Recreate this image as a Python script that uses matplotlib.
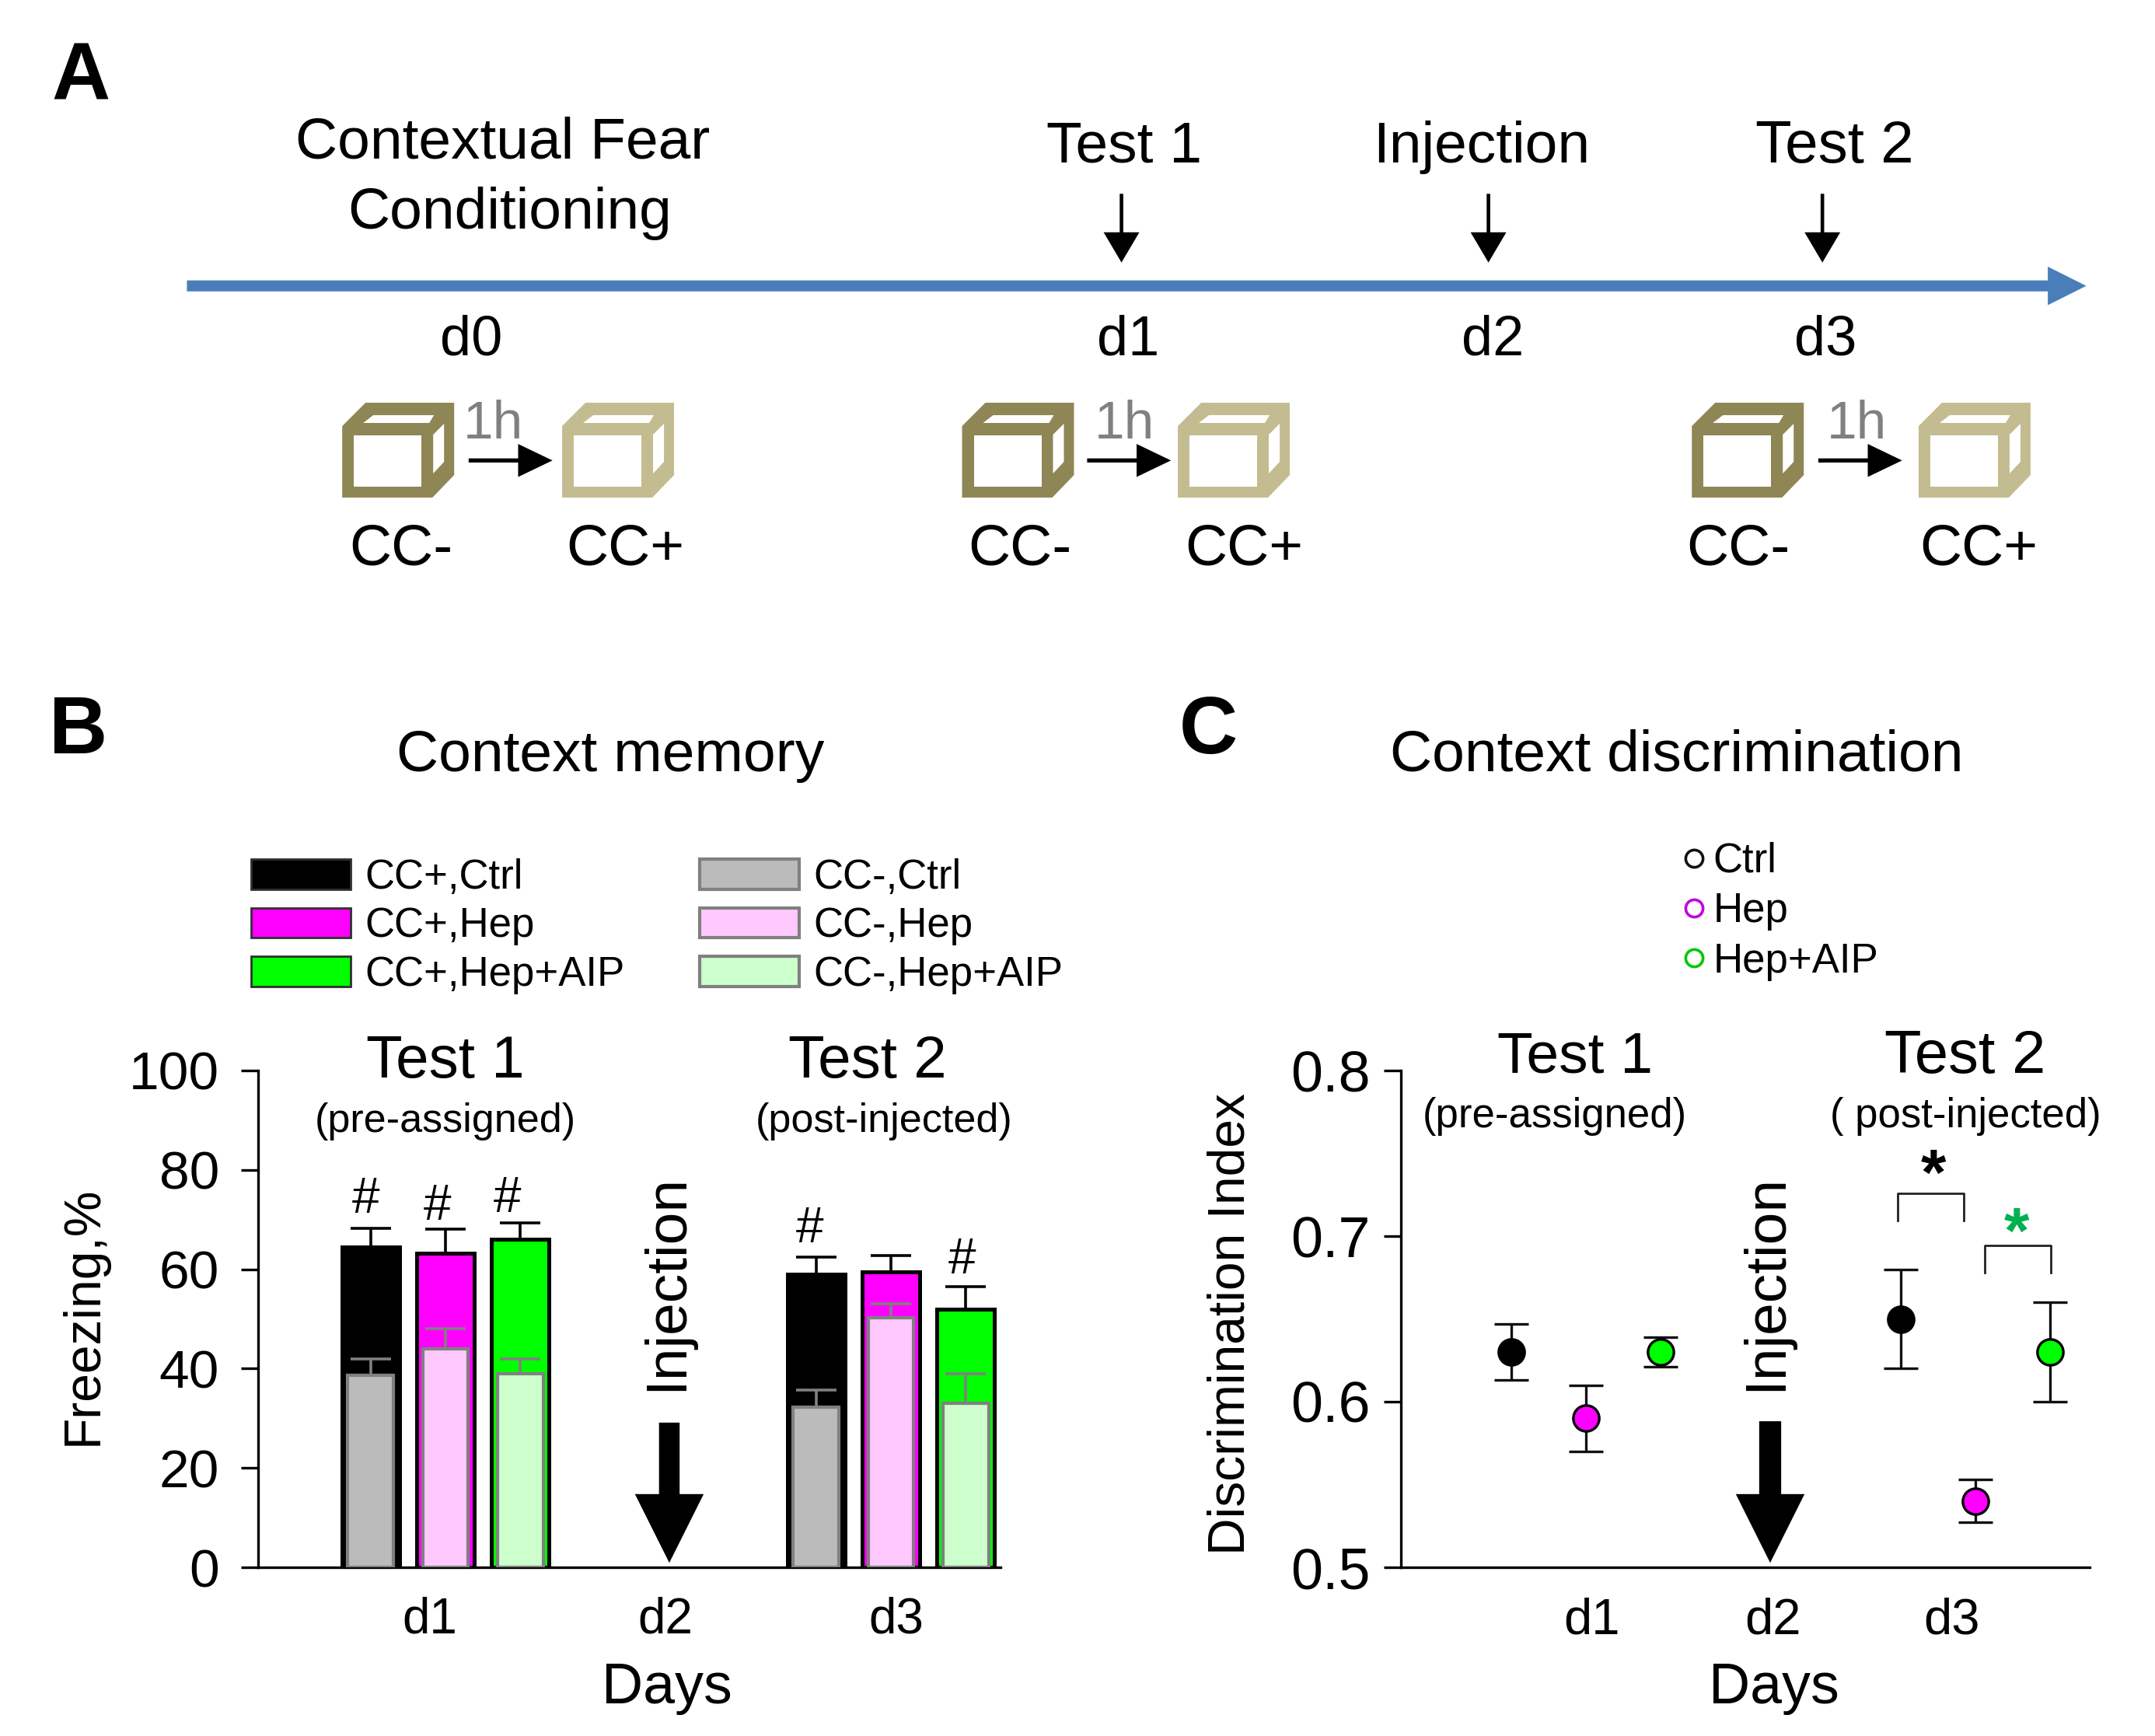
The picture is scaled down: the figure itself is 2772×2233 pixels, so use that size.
import matplotlib
matplotlib.use("Agg")
import matplotlib.pyplot as plt
from matplotlib.lines import Line2D
from matplotlib.patches import Patch, Polygon

plt.rcParams['font.family'] = ['Liberation Sans', 'DejaVu Sans']

W, H = 2772, 2233

# panel B values
days = [1, 3]
groups = ['Ctrl', 'Hep', 'Hep+AIP']
cc_plus = [[64.5, 63.2, 66.0], [59.0, 59.5, 52.0]]
cc_plus_top = [[68.3, 68.0, 69.3], [62.5, 62.8, 56.5]]
cc_minus = [[38.7, 44.0, 39.0], [32.3, 50.3, 33.0]]
cc_minus_top = [[42.0, 48.0, 42.0], [35.7, 53.0, 39.0]]
b_yticks = [0, 20, 40, 60, 80, 100]

# panel C values
disc = [[0.63, 0.59, 0.63], [0.65, 0.54, 0.63]]
disc_low = [[0.613, 0.57, 0.621], [0.62, 0.527, 0.60]]
disc_high = [[0.647, 0.61, 0.639], [0.68, 0.553, 0.66]]
c_yticks = [0.5, 0.6, 0.7, 0.8]
day_labels = ['d1', 'd2', 'd3']

plus_colors = ['#000000', '#ff00ff', '#00ff00']
minus_colors = ['#bbbbbb', '#ffc8ff', '#ccffcc']
BOX_DARK = '#8f8655'
BOX_LIGHT = '#c4bc91'

fig = plt.figure(figsize=(W / 100, H / 100), dpi=100, facecolor='white')


def axes_px(left, top, right, bottom):
    return fig.add_axes([left / W, 1 - bottom / H, (right - left) / W, (bottom - top) / H])


def style_axes(ax, ticks, size, pad):
    ax.spines['top'].set_visible(False)
    ax.spines['right'].set_visible(False)
    ax.spines['left'].set_linewidth(2.4)
    ax.spines['bottom'].set_linewidth(2.4)
    ax.set_yticks(ticks)
    ax.tick_params(axis='y', length=16, width=2.4, labelsize=size, pad=pad)
    ax.tick_params(axis='x', length=0, labelsize=46, pad=27)
    ax.patch.set_alpha(0)


# panel B
ax_b = axes_px(332, 1377, 1287, 2016)
ax_b.set_xlim(0.159, 3.492)
ax_b.set_ylim(0, 100)
style_axes(ax_b, b_yticks, 50, 20)
ax_b.set_yticklabels([str(v) for v in b_yticks])
for d, day in enumerate(days):
    for g in range(3):
        x = day + (g - 1) * 0.336
        ax_b.errorbar(x, cc_plus[d][g], yerr=[[0], [cc_plus_top[d][g] - cc_plus[d][g]]], color='black',
                      elinewidth=2.6, capsize=19, capthick=2.6, zorder=1)
        ax_b.bar(x, cc_plus[d][g], width=0.257, color=plus_colors[g], edgecolor='black', linewidth=3.6, zorder=2)
        ax_b.bar(x, cc_minus[d][g], width=0.205, color=minus_colors[g], edgecolor='#808080', linewidth=3, zorder=3)
        ax_b.errorbar(x, cc_minus[d][g], yerr=[[0], [cc_minus_top[d][g] - cc_minus[d][g]]], color='#808080',
                      elinewidth=2.6, capsize=19, capthick=2.6, zorder=3)
ax_b.set_xticks([0.93, 1.988, 3.024])
ax_b.set_xticklabels(day_labels)
ax_b.set_ylabel('Freezing,%', fontsize=47.5)
ax_b.yaxis.set_label_coords((139 - 332) / 955, (2016 - 1692) / 639)

legend_handles = [Patch(facecolor=plus_colors[i], edgecolor='#303030', linewidth=2, label='CC+,' + groups[i]) for i in range(3)]
legend_handles += [Patch(facecolor=minus_colors[i], edgecolor='#808080', linewidth=3, label='CC-,' + groups[i]) for i in range(3)]
fig.legend(handles=legend_handles, ncol=2, loc='upper left', bbox_to_anchor=(323 / W, 1 - 1104 / H), frameon=False,
           fontsize=38, borderpad=0, borderaxespad=0, handlelength=2.43, handleheight=0.75,
           handletextpad=0.34, columnspacing=1.83, labelspacing=0.236)

# panel C
ax_c = axes_px(1802, 1377, 2688, 2016)
ax_c.set_xlim(0.05, 3.587)
ax_c.set_ylim(0.5, 0.8)
style_axes(ax_c, c_yticks, 53, 12)
ax_c.set_yticklabels(['%.1f' % v for v in c_yticks])
for d, day in enumerate(days):
    for g in range(3):
        x = day + (g - 1) * 0.385
        ax_c.errorbar(x, disc[d][g], yerr=[[disc[d][g] - disc_low[d][g]], [disc_high[d][g] - disc[d][g]]],
                      fmt='o', ms=24, mfc=plus_colors[g], mec='black', mew=2.4, ecolor='#111111',
                      elinewidth=2.4, capsize=16, capthick=2.4, clip_on=False)
ax_c.set_xticks([1.03, 1.962, 2.88])
ax_c.set_xticklabels(day_labels)
ax_c.tick_params(axis='x', labelsize=47, pad=28)
ax_c.set_ylabel('Discrimination Index', fontsize=47.5)
ax_c.yaxis.set_label_coords((1615 - 1802) / 886, (2016 - 1703) / 639)

legend_c = [Line2D([], [], ls='none', marker='o', ms=16, mfc='white', mew=2.6, mec=c, label=l)
            for c, l in zip(['#111111', '#c000e0', '#00c800'], groups)]
fig.legend(handles=legend_c, loc='upper left', bbox_to_anchor=(2161 / W, 1 - 1083 / H), frameon=False,
           fontsize=38, borderpad=0, borderaxespad=0, handlelength=0.7, handletextpad=0.1, labelspacing=0.27)

# everything else sits on a full figure layer, in units of the 1568 wide view
ov = fig.add_axes([0, 0, 1, 1], zorder=5)
ov.set_xlim(0, 1568)
ov.set_ylim(1263, 0)
ov.axis('off')


def label(x, y, s, size, **kw):
    if not kw.get('rotation'):
        y += 2
    ov.text(x, y, s, fontsize=size, ha='center', va='center', **kw)


def down_arrow(x, y0, y1, shaft, head_w, head_h):
    ov.add_patch(Polygon([(x - shaft / 2, y0), (x + shaft / 2, y0), (x + shaft / 2, y1 - head_h), (x + head_w / 2, y1 - head_h),
                          (x, y1), (x - head_w / 2, y1 - head_h), (x - shaft / 2, y1 - head_h)], fc='black', ec='none'))


def right_arrow(x0, x1, y, shaft, head_w, head_l, color='black'):
    ov.add_patch(Polygon([(x0, y - shaft / 2), (x1 - head_l, y - shaft / 2), (x1 - head_l, y - head_w / 2), (x1, y),
                          (x1 - head_l, y + head_w / 2), (x1 - head_l, y + shaft / 2), (x0, y + shaft / 2)], fc=color, ec='none'))


def cube(x, y, color):
    k = 1568 / W
    pts = lambda shape: [(x + a * k, y + b * k) for a, b in shape]
    ov.add_patch(Polygon(pts([(0, 30), (30, 0), (144, 0), (144, 93), (116, 122), (0, 122)]), fc=color, ec='none'))
    for win in ([(15, 42), (102, 42), (102, 108), (15, 108)],
                [(27, 26), (112, 26), (118, 16), (40, 16)],
                [(117, 41), (131, 27), (131, 76), (117, 91)]):
        ov.add_patch(Polygon(pts(win), fc='white', ec='none'))


# panel A
right_arrow(136, 1518, 208, 8, 28, 28, color='#4a7ebb')
label(366, 102, 'Contextual Fear', 54)
label(371, 153, 'Conditioning', 54)
for x, s, tx, fs in [(816, 'Test 1', 818, 54), (1083, 'Injection', 1078, 54), (1326, 'Test 2', 1335, 55)]:
    label(tx, 105, s, fs)
    down_arrow(x, 141, 191, 2.6, 26, 22)
for x, s in [(343, 'd0'), (821, 'd1'), (1086, 'd2'), (1328, 'd3')]:
    label(x, 246, s, 52)
for c0, c1, a0, h, m, p in [(249, 409, 341, 359, 292, 455), (700, 857, 791, 818, 742, 905), (1231, 1396, 1323, 1351, 1265, 1440)]:
    cube(c0, 293, BOX_DARK)
    cube(c1, 293, BOX_LIGHT)
    right_arrow(a0, a0 + 61, 335, 3, 24, 25)
    label(h, 307, '1h', 50, color='#808080')
    label(m, 398, 'CC-', 54)
    label(p, 398, 'CC+', 54)

for x, y, s in [(59, 55, 'A'), (57, 531, 'B'), (879, 531, 'C')]:
    label(x, y, s, 75, fontweight='bold')
label(444, 548, 'Context memory', 54)
label(1220, 548, 'Context discrimination', 54)

# panel B notes
label(324, 771, 'Test 1', 55)
label(324, 814, '(pre-assigned)', 37.5)
label(631, 771, 'Test 2', 55)
label(643, 814, '(post-injected)', 37.5)
for x, y in [(266, 871), (318, 876), (369, 870), (589, 892), (700, 915)]:
    label(x, y, '#', 46)
label(485, 933, 'Injection', 54, rotation=90)
down_arrow(487, 1035, 1137, 15, 50, 50)
label(485, 1226, 'Days', 53)

# panel C notes
label(1146, 767, 'Test 1', 54)
label(1131, 810, '(pre-assigned)', 38)
label(1430, 767, 'Test 2', 56)
label(1430, 810, '( post-injected)', 38)
label(1285, 933, 'Injection', 54, rotation=90)
down_arrow(1288, 1034, 1137, 16, 50, 50)
label(1291, 1226, 'Days', 53)
ov.plot([1381, 1381, 1429, 1429], [888, 868, 868, 888], color='#222222', lw=2)
ov.plot([1444, 1444, 1492, 1492], [926, 906, 906, 926], color='#222222', lw=2)
label(1407, 855, '*', 60, fontweight='bold')
label(1467, 897, '*', 60, fontweight='bold', color='#00b050')

fig.savefig('out.png', dpi=100)
